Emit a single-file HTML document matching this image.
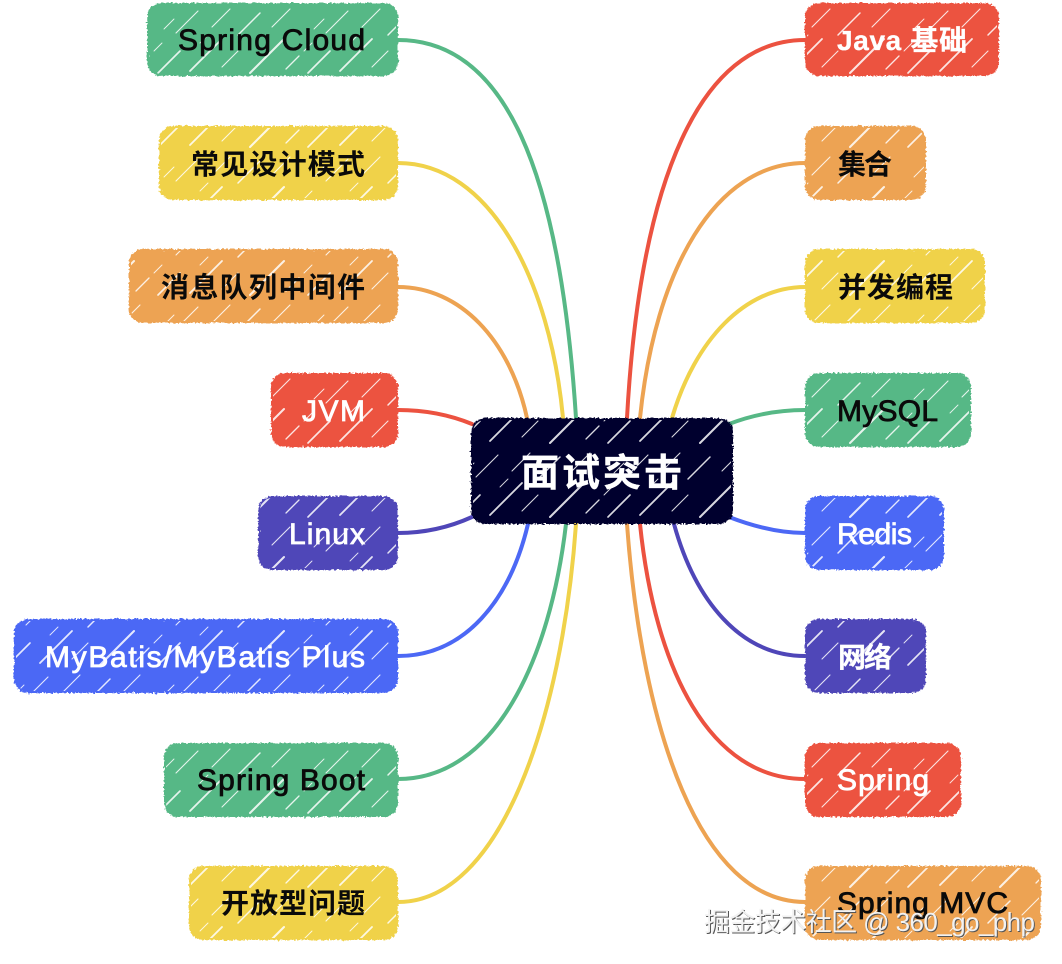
<!DOCTYPE html>
<html><head><meta charset="utf-8"><style>
html,body{margin:0;padding:0;background:#fff;width:1062px;height:964px;overflow:hidden}
svg{display:block}
.l{font-family:"Liberation Sans","Noto Sans CJK SC",sans-serif;font-size:30px;fill:#0a0a0a;stroke:#0a0a0a;stroke-width:.8}
.c{font-family:"Liberation Sans","Noto Sans CJK SC",sans-serif;font-size:28px;font-weight:700;fill:#0a0a0a}
.w{fill:#fff;stroke:#fff}
.cw{fill:#fff;stroke:#fff;stroke-width:.3}
.e{fill:none;stroke-width:4;stroke-linecap:round}
.wm{font-family:"Liberation Sans","Noto Sans CJK SC",sans-serif;font-size:26px}
</style></head><body>
<svg width="1062" height="964" viewBox="0 0 1062 964" xmlns="http://www.w3.org/2000/svg">
<defs>
<filter id="r" filterUnits="userSpaceOnUse" x="0" y="0" width="1062" height="964">
<feTurbulence type="fractalNoise" baseFrequency="0.45" numOctaves="2" seed="4"/>
<feDisplacementMap in="SourceGraphic" scale="4" xChannelSelector="R" yChannelSelector="G"/>
</filter>
<pattern id="h" patternUnits="userSpaceOnUse" width="150" height="74" y="3">
<g stroke="#fff" fill="none" stroke-linecap="round" opacity=".85">
<path d="M8 70L30 48" stroke-width="1.6"/><path d="M26 30L48 8" stroke-width="1.1"/>
<path d="M40 68L72 36" stroke-width="1.8"/><path d="M62 24L80 6" stroke-width="1.1"/>
<path d="M72 64L88 48" stroke-width="1.1"/><path d="M88 32L110 10" stroke-width="1.5"/>
<path d="M100 70L134 36" stroke-width="2"/><path d="M122 24L140 6" stroke-width="1.1"/>
<path d="M14 26L24 16" stroke-width=".9"/><path d="M136 66L149 53" stroke-width="1.3"/>
<path d="M50 40L58 32" stroke-width=".9"/><path d="M4 48L12 40" stroke-width=".9"/>
</g>
</pattern>
</defs>

<g class="e">
<path class="e" stroke="#57b886" d="M398 40C505 40 560 170 576 418"/>
<path class="e" stroke="#f0d24a" d="M398 163C490 163 550 280 563 418"/>
<path class="e" stroke="#eda352" d="M398 287C460 287 510 340 527 418"/>
<path class="e" stroke="#ec5240" d="M398 410C425 410 450 415 472 424"/>
<path class="e" stroke="#4f46b8" d="M398 533C425 533 450 527 472 517"/>
<path class="e" stroke="#4c68f5" d="M398 656C465 656 510 600 528 524"/>
<path class="e" stroke="#57b886" d="M398 779C495 779 550 660 566 524"/>
<path class="e" stroke="#f0d24a" d="M398 902C500 902 562 720 576 524"/>
<path class="e" stroke="#ec5240" d="M805 40C700 40 640 180 627 418"/>
<path class="e" stroke="#eda352" d="M805 163C715 163 655 270 640 418"/>
<path class="e" stroke="#f0d24a" d="M805 287C745 287 695 340 672 418"/>
<path class="e" stroke="#57b886" d="M805 410C780 410 755 414 729 424"/>
<path class="e" stroke="#4c68f5" d="M805 533C780 533 755 527 729 517"/>
<path class="e" stroke="#4f46b8" d="M805 656C740 656 695 600 674 524"/>
<path class="e" stroke="#ec5240" d="M805 779C710 779 655 670 640 524"/>
<path class="e" stroke="#eda352" d="M805 902C700 902 642 730 627 524"/>
</g>

<g filter="url(#r)">
<rect x="147" y="3" width="251" height="73" rx="14" fill="#57b886"/>
<rect x="159" y="126" width="239" height="74" rx="14" fill="#f0d24a"/>
<rect x="129" y="249" width="269" height="74" rx="14" fill="#eda352"/>
<rect x="271" y="373" width="127" height="74" rx="14" fill="#ec5240"/>
<rect x="258" y="496" width="140" height="74" rx="14" fill="#4f46b8"/>
<rect x="14" y="619" width="384" height="74" rx="14" fill="#4c68f5"/>
<rect x="164" y="743" width="234" height="74" rx="14" fill="#57b886"/>
<rect x="189" y="866" width="209" height="74" rx="14" fill="#f0d24a"/>
<rect x="805" y="3" width="194" height="73" rx="14" fill="#ec5240"/>
<rect x="805" y="126" width="121" height="74" rx="14" fill="#eda352"/>
<rect x="805" y="249" width="180" height="74" rx="14" fill="#f0d24a"/>
<rect x="805" y="373" width="166" height="74" rx="14" fill="#57b886"/>
<rect x="805" y="496" width="139" height="74" rx="14" fill="#4c68f5"/>
<rect x="805" y="619" width="121" height="74" rx="14" fill="#4f46b8"/>
<rect x="805" y="743" width="156" height="74" rx="14" fill="#ec5240"/>
<rect x="805" y="866" width="236" height="74" rx="14" fill="#eda352"/>
<rect x="471" y="418" width="262" height="106" rx="14" fill="#03032e"/>
</g>
<g fill="url(#h)">
<rect x="149" y="5" width="247" height="69" rx="12"/>
<rect x="161" y="128" width="235" height="70" rx="12"/>
<rect x="131" y="251" width="265" height="70" rx="12"/>
<rect x="273" y="375" width="123" height="70" rx="12"/>
<rect x="260" y="498" width="136" height="70" rx="12"/>
<rect x="16" y="621" width="380" height="70" rx="12"/>
<rect x="166" y="745" width="230" height="70" rx="12"/>
<rect x="191" y="868" width="205" height="70" rx="12"/>
<rect x="807" y="5" width="190" height="69" rx="12"/>
<rect x="807" y="128" width="117" height="70" rx="12"/>
<rect x="807" y="251" width="176" height="70" rx="12"/>
<rect x="807" y="375" width="162" height="70" rx="12"/>
<rect x="807" y="498" width="135" height="70" rx="12"/>
<rect x="807" y="621" width="117" height="70" rx="12"/>
<rect x="807" y="745" width="152" height="70" rx="12"/>
<rect x="807" y="868" width="232" height="70" rx="12"/>
<rect x="473" y="420" width="258" height="102" rx="12"/>
</g>

<text class="l" x="178" y="50" textLength="187">Spring Cloud</text>
<text class="c" x="191" y="174" textLength="174">常见设计模式</text>
<text class="c" x="161" y="297" textLength="204">消息队列中间件</text>
<text class="l w" x="302" y="421" textLength="63">JVM</text>
<text class="l w" x="289" y="544" textLength="76">Linux</text>
<text class="l w" x="45" y="667" textLength="320">MyBatis/MyBatis Plus</text>
<text class="l" x="197" y="790" textLength="168">Spring Boot</text>
<text class="c" x="221" y="913" textLength="144">开放型问题</text>

<text class="c cw" x="837" y="50" textLength="130">Java 基础</text>
<text class="c" x="838" y="174" textLength="54">集合</text>
<text class="c" x="838" y="297" textLength="115">并发编程</text>
<text class="l" x="837" y="421" textLength="101">MySQL</text>
<text class="l w" x="837" y="544" textLength="75">Redis</text>
<text class="c cw" x="838" y="667" textLength="54">网络</text>
<text class="l w" x="837" y="790" textLength="92">Spring</text>
<text class="l" x="837" y="913" textLength="171">Spring MVC</text>

<text class="c cw" x="521" y="486" style="font-size:38px" textLength="161">面试突击</text>

<text class="wm" x="705" y="932" textLength="331" fill="#555">掘金技术社区 @ 360_go_php</text>
<text class="wm" x="704" y="931" textLength="331" fill="#f2f2f2">掘金技术社区 @ 360_go_php</text>
</svg>
</body></html>
